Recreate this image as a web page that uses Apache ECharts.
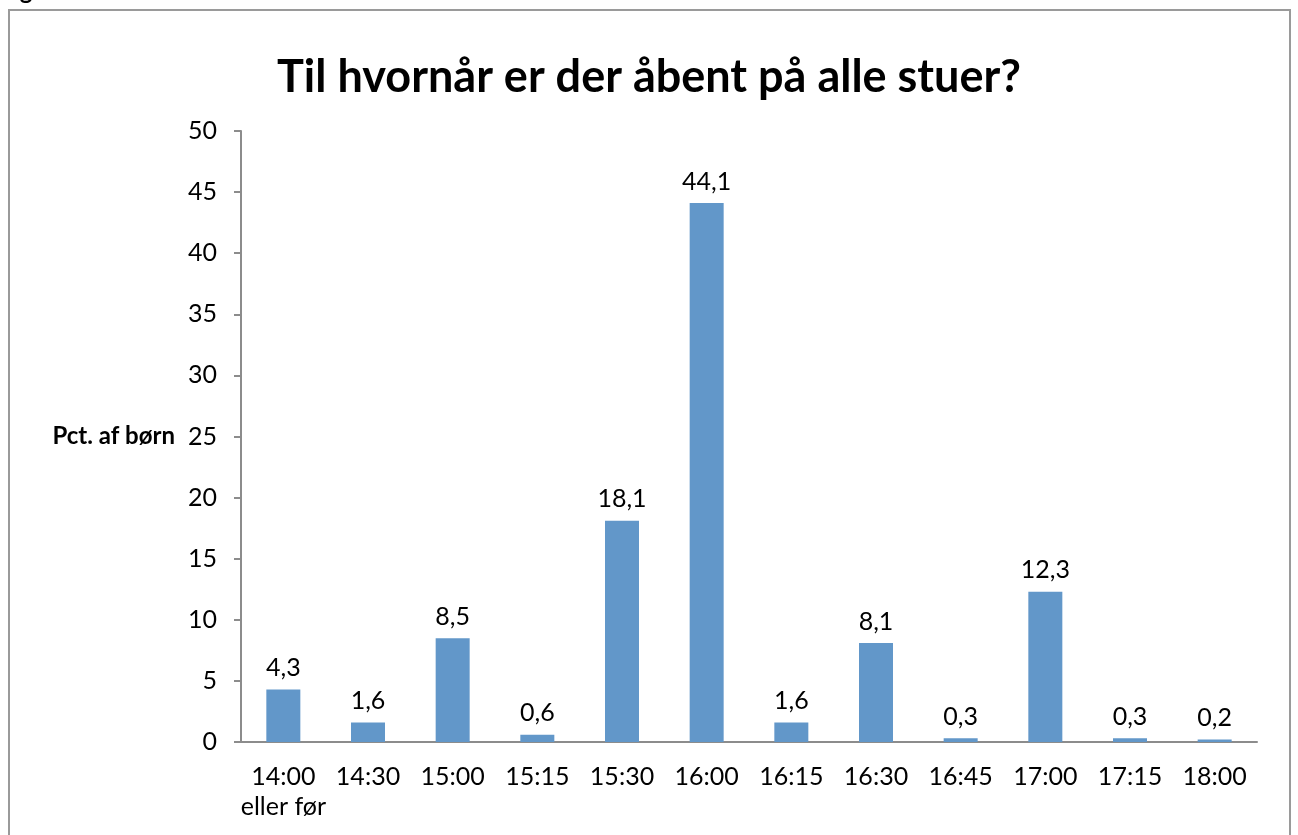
<!DOCTYPE html>
<html>
<head>
<meta charset="utf-8">
<script src="https://cdn.jsdelivr.net/npm/echarts@6/dist/echarts.min.js"></script>
<style>
  html, body { margin: 0; padding: 0; background: #fff; }
  #main { width: 1298px; height: 835px; }
</style>
</head>
<body>
<div id="main"></div>
<script>
const categories = ['14:00\neller før', '14:30', '15:00', '15:15', '15:30', '16:00', '16:15', '16:30', '16:45', '17:00', '17:15', '18:00'];
const values = [4.3, 1.6, 8.5, 0.6, 18.1, 44.1, 1.6, 8.1, 0.3, 12.3, 0.3, 0.2];

const font = 'Lato, Open Sans, sans-serif';
const myChart = echarts.init(document.getElementById('main'));

const option = {
    backgroundColor: '#fff',
    title: {
        text: 'Til hvornår er der åbent på alle stuer?',
        left: 'center',
        top: 50,
        textStyle: { fontFamily: font, fontSize: 45, fontWeight: 'bold', color: '#000' }
    },
    graphic: [
        {
            type: 'rect',
            shape: { x: 9, y: 10, width: 1281, height: 840 },
            style: { fill: 'none', stroke: '#9a9a9a', lineWidth: 2 }
        },
        {
            type: 'text',
            left: 0,
            top: -21,
            style: { text: 'Figur 8.2:', font: 'bold 24px ' + font, fill: '#000' }
        }
    ],
    grid: { left: 241, right: 41, top: 131, bottom: 93 },
    xAxis: {
        type: 'category',
        data: categories,
        axisLine: { lineStyle: { color: '#8c8c8c', width: 2 } },
        axisTick: { show: false },
        axisLabel: { fontFamily: font, fontSize: 25, color: '#000', margin: 20, lineHeight: 30, interval: 0 }
    },
    yAxis: {
        type: 'value',
        min: 0,
        max: 50,
        interval: 5,
        name: 'Pct. af børn',
        nameLocation: 'middle',
        nameRotate: 0,
        nameGap: 66,
        nameTextStyle: { fontFamily: font, fontSize: 24, fontWeight: 'bold', color: '#000', align: 'right' },
        splitLine: { show: false },
        axisLine: { show: true, lineStyle: { color: '#8c8c8c', width: 2 } },
        axisTick: { show: true, length: 7, lineStyle: { color: '#8c8c8c', width: 2 } },
        axisLabel: { fontFamily: font, fontSize: 25, color: '#000', margin: 24 }
    },
    series: [
        {
            type: 'bar',
            data: values,
            barWidth: 34,
            itemStyle: { color: '#6297C9' },
            label: {
                show: true,
                position: 'top',
                distance: 9,
                fontFamily: font,
                fontSize: 25,
                color: '#000',
                formatter: p => String(p.value).replace('.', ',')
            }
        }
    ]
};

myChart.setOption(option);
</script>
</body>
</html>
